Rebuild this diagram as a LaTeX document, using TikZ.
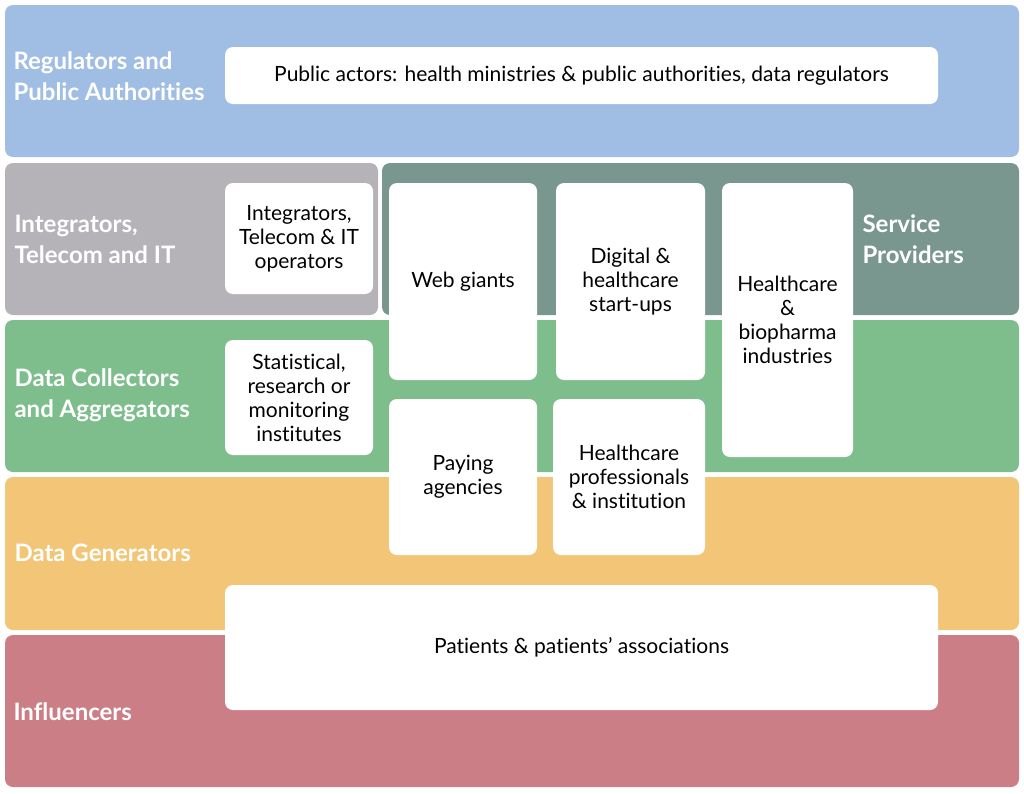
\documentclass[tikz,border=0pt]{standalone}
\usepackage{fontspec}
\setmainfont{Lato}[Ligatures=NoCommon]
\definecolor{regblue}{HTML}{A0BDE3}
\definecolor{intgray}{HTML}{B5B3B8}
\definecolor{servteal}{HTML}{7A978F}
\definecolor{collgreen}{HTML}{7EBD8C}
\definecolor{genyellow}{HTML}{F2C577}
\definecolor{inflred}{HTML}{CC7E86}
\tikzset{
  band/.style={rounded corners=8pt},
  layer/.style={anchor=west, align=left, text=white, font=\fontsize{24}{31}\selectfont\bfseries},
  card/.style={fill=white, rounded corners=8pt, align=center, inner sep=0pt,
               font=\fontsize{21}{24}\selectfont}
}
\begin{document}
\begin{tikzpicture}[x=1pt, y=-1pt]
    \useasboundingbox (0,0) rectangle (1024,793);

    % Bands
    \fill[band, regblue]   (5,5)   rectangle (1019,157);
    \fill[band, intgray]   (5,163) rectangle (378,315);
    \fill[band, servteal]  (382,163) rectangle (1019,315);
    \fill[band, collgreen] (5,320) rectangle (1019,472);
    \fill[band, genyellow] (5,477) rectangle (1019,630);
    \fill[band, inflred]   (5,635) rectangle (1019,787);

    % Layer labels
    \node[layer] (reg)  at (10,76)  {Regulators and\\Public Authorities};
    \node[layer] (intl) at (11,239) {Integrators,\\Telecom and IT};
    \node[layer] (serv) at (859,239) {Service\\Providers};
    \node[layer] (coll) at (11,395) {Data Collectors\\and Aggregators};
    \node[layer] (gen)  at (11,553) {Data Generators};
    \node[layer] (infl) at (10,712) {Influencers};

    % Actors
    \node[card, minimum width=713, minimum height=57]  (pub)  at (581.5,75.5)
        {Public actors: health ministries \& public authorities, data regulators};
    \node[card, minimum width=148, minimum height=111] (intg) at (299,238.5)
        {Integrators,\\Telecom \& IT\\operators};
    \node[card, minimum width=148, minimum height=115] (stat) at (299,397.5)
        {Statistical,\\research or\\monitoring\\institutes};
    \node[card, minimum width=148, minimum height=197] (web)  at (463,281.5)
        {Web giants};
    \node[card, minimum width=149, minimum height=197] (digi) at (630.5,281.5)
        {Digital \&\\healthcare\\start-ups};
    \node[card, minimum width=131, minimum height=274] (bio)  at (787.5,320)
        {Healthcare\\\&\\biopharma\\industries};
    \node[card, minimum width=148, minimum height=156] (pay)  at (463,477)
        {Paying\\agencies};
    \node[card, minimum width=152, minimum height=156] (prof) at (629,477)
        {Healthcare\\professionals\\\& institution};
    \node[card, minimum width=713, minimum height=125] (pat)  at (581.5,647.5)
        {Patients \& patients' associations};
\end{tikzpicture}
\end{document}
